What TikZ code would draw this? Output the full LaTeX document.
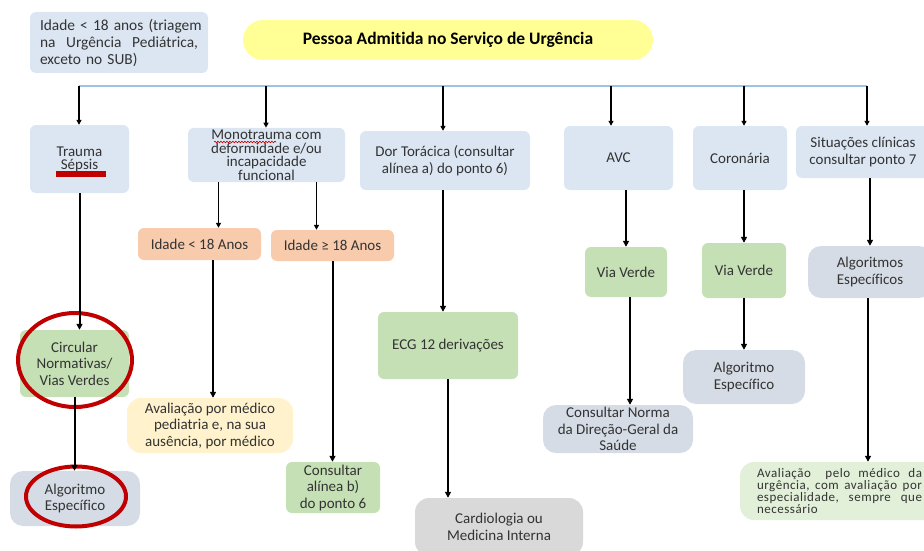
\documentclass[tikz,border=0pt]{standalone}
\usepackage{fontspec}
\setmainfont[Ligatures=NoCommon]{Carlito}
\usetikzlibrary{arrows.meta,calc,decorations.pathmorphing}
\definecolor{lblue}{HTML}{DCE6F2}
\definecolor{ttlyel}{RGB}{255,255,150}
\definecolor{salmon}{HTML}{F8CBAD}
\definecolor{lgreen}{HTML}{C5E0B4}
\definecolor{gblue}{HTML}{D6DCE5}
\definecolor{lyel}{HTML}{FFF2CC}
\definecolor{lgray}{HTML}{D9D9D9}
\definecolor{pgreen}{HTML}{E2F0D9}
\definecolor{bline}{RGB}{157,195,230}
\definecolor{dred}{HTML}{C00000}
\definecolor{txt}{HTML}{333333}
\tikzset{
  box/.style={rectangle, rounded corners=6pt, inner sep=2pt, align=center, text=txt, font=\fontsize{15}{16.5}\selectfont},
  bluebox/.style={box, fill=lblue},
  greenbox/.style={box, fill=lgreen},
  salbox/.style={box, fill=salmon},
  gbbox/.style={box, fill=gblue, rounded corners=13pt},
  arrtop/.style={draw=black, line width=1.2pt, -{Triangle[length=5pt,width=5pt]}},
  arrlow/.style={draw=black, line width=2pt, -{Triangle[length=6pt,width=6pt]}},
  redring/.style={draw=dred, line width=4pt}
}
\begin{document}
\begin{tikzpicture}[x=1pt,y=-1pt]
\useasboundingbox (0,0) rectangle (924,551);

% top row
\node[bluebox, minimum width=178pt, minimum height=61pt, align=left, text width=158pt, font=\fontsize{15.4}{17}\selectfont] (idade) at (119,42.5)
  {\makebox[158pt][l]{Idade < 18 anos (triagem}\\\makebox[158pt]{na\hfill Urgência\hfill Pediátrica,}\\exceto no SUB)};
\node[box, fill=ttlyel, rounded corners=20pt, minimum width=410pt, minimum height=40pt, text=black, font=\fontsize{17.5}{20}\selectfont\bfseries] (title) at (448,40) {Pessoa Admitida no Serviço de Urgência};

% distribution line
\coordinate (b1) at (79,86);
\coordinate (b2) at (266,86);
\coordinate (b3) at (443,86);
\coordinate (b4) at (611,86);
\coordinate (b5) at (744,86);
\coordinate (b6) at (867,86);
\draw[bline, line width=1.2pt] (b1) -- (b6);

% level 1
\node[bluebox, minimum width=99pt, minimum height=68pt, font=\fontsize{15}{13.5}\selectfont] (trauma) at (79.5,159) {\\[-3pt]Trauma\\Sépsis};
\node[bluebox, minimum width=157pt, minimum height=54pt, font=\fontsize{15}{13.5}\selectfont] (mono) at (266.5,155) {Monotrauma com\\deformidade e/ou\\incapacidade\\funcional};
\node[bluebox, minimum width=170pt, minimum height=59pt, font=\fontsize{15}{17}\selectfont] (dor) at (445,160.5) {Dor Torácica (consultar\\alínea a) do ponto 6)};
\node[bluebox, minimum width=109pt, minimum height=64pt] (avc) at (618.5,158) {AVC};
\node[bluebox, minimum width=94pt, minimum height=64pt] (coro) at (740,158) {Coronária};
\node[bluebox, minimum width=134pt, minimum height=52pt] (sit) at (863,152) {Situações clínicas\\consultar ponto 7};

% red marks
\fill[dred] (56,171) rectangle (106,177);
\draw[dred, line width=0.6pt, decorate, decoration={snake, amplitude=0.8pt, segment length=3pt}] (214,142) -- (276,142);

\foreach \b/\n in {b1/trauma,b2/mono,b3/dor,b4/avc,b5/coro,b6/sit}
  \draw[arrtop] (\b) -- (\b |- \n.north);

% level 2
\node[salbox, minimum width=123pt, minimum height=32pt] (idm) at (199.5,244) {Idade < 18 Anos};
\node[salbox, minimum width=123pt, minimum height=31pt] (idM) at (332.5,245.5) {Idade ≥ 18 Anos};
\node[greenbox, minimum width=109pt, minimum height=67pt] (circ) at (74.5,363.5) {Circular\\Normativas/\\Vias Verdes};
\node[gbbox, minimum width=130pt, minimum height=55pt] (alg1) at (75,498.5) {Algoritmo\\Específico};
\node[box, fill=lyel, rounded corners=14pt, minimum width=166pt, minimum height=55pt] (aval) at (210,425.5) {Avaliação por médico\\pediatria e, na sua\\ausência, por médico};
\node[greenbox, minimum width=94pt, minimum height=51pt] (consb) at (333,487.5) {Consultar\\alínea b)\\do ponto 6};
\node[greenbox, minimum width=140pt, minimum height=67pt] (ecg) at (448,345.5) {ECG 12 derivações};
\node[box, fill=lgray, rounded corners=14pt, minimum width=168pt, minimum height=58pt] (card) at (499,527) {Cardiologia ou\\Medicina Interna};
\node[greenbox, minimum width=82pt, minimum height=50pt] (vv1) at (626,272) {Via Verde};
\node[gbbox, minimum width=150pt, minimum height=48pt] (norma) at (618,429) {Consultar Norma\\da Direção-Geral da\\Saúde};
\node[greenbox, minimum width=84pt, minimum height=55pt] (vv2) at (744,270.5) {Via Verde};
\node[gbbox, minimum width=122pt, minimum height=54pt] (alg2) at (744,377) {Algoritmo\\Específico};
\node[gbbox, minimum width=124pt, minimum height=52pt] (alg3) at (870,272) {Algoritmos\\Específicos};
\node[box, fill=pgreen, rounded corners=14pt, minimum width=199pt, minimum height=58pt, align=left, text width=165pt, font=\fontsize{13}{12}\selectfont\addfontfeature{LetterSpace=4}] (aval2) at (839.5,491)
  {\makebox[165pt]{Avaliação\hspace{6pt}\hfill pelo\hfill médico\hfill da}\\\makebox[165pt]{urgência,\hfill com\hfill avaliação\hfill por}\\\makebox[165pt]{especialidade,\hfill sempre\hfill que}\\necessário};

% red ellipses
\draw[redring] (75,360) ellipse [x radius=57, y radius=47];
\draw[redring] (76,496.5) ellipse [x radius=50, y radius=30];

% lower arrows
\draw[arrlow] (trauma.south) -- (trauma.south |- circ.north);
\draw[arrlow] (circ.south) -- (circ.south |- alg1.north);
\draw[arrtop] ([xshift=-48pt]mono.south) -- ([xshift=-48pt]mono.south |- idm.north);
\draw[arrtop] ([xshift=50pt]mono.south) -- ([xshift=50pt]mono.south |- idM.north);
\draw[arrlow] ([xshift=13.5pt]idm.south) -- ([xshift=13.5pt]idm.south |- aval.north);
\draw[arrlow] (idM.south) -- (idM.south |- consb.north);
\draw[arrlow] ([xshift=-2pt]dor.south) -- ([xshift=-2pt]dor.south |- ecg.north);
\draw[arrlow] (ecg.south) -- (ecg.south |- card.north);
\draw[arrlow] (vv1.north |- avc.south) -- (vv1.north);
\draw[arrlow] ([xshift=4pt]vv1.south) -- ([xshift=4pt]vv1.south |- norma.north);
\draw[arrlow] (coro.south -| vv2.north) -- (vv2.north);
\draw[arrlow] (vv2.south) -- (vv2.south |- alg2.north);
\draw[arrlow] (alg3.north |- sit.south) -- (alg3.north);
\draw[arrlow] ([xshift=-2pt]alg3.south) -- ([xshift=-2pt]alg3.south |- aval2.north);
\end{tikzpicture}
\end{document}
